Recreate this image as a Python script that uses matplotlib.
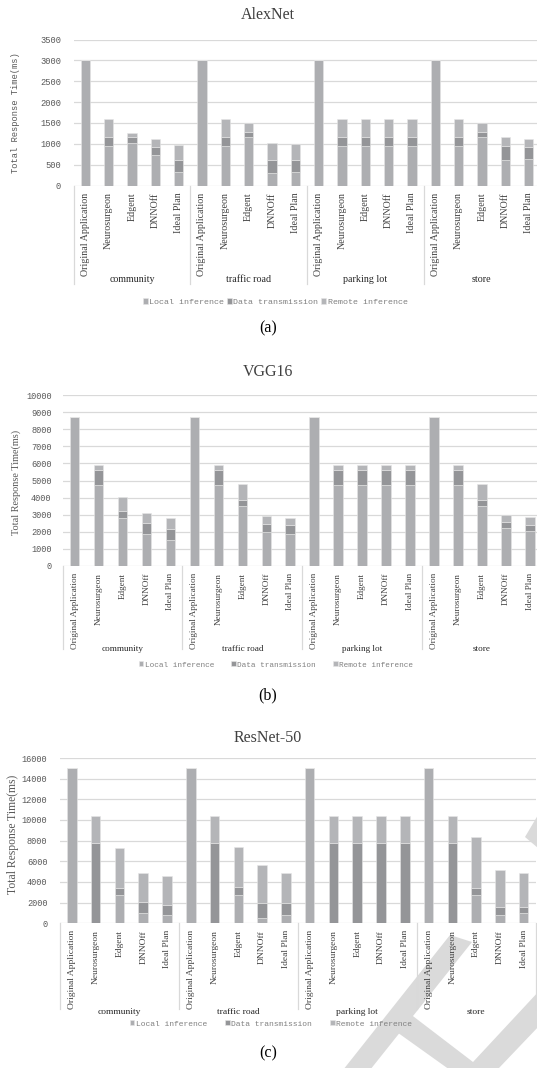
import matplotlib
matplotlib.use("Agg")
import matplotlib.pyplot as plt
import matplotlib.transforms as mtransforms
from matplotlib.lines import Line2D
from matplotlib.patches import Polygon

# Categories
scenes = ["community", "traffic road", "parking lot", "store"]
methods = ["Original Application", "Neurosurgeon", "Edgent", "DNNOff", "Ideal Plan"]
series_names = ["Local inference", "Data transmission", "Remote inference"]

# AlexNet (ms)
alex_local = [3000, 935, 1010, 720, 330, 3000, 935, 1160, 290, 330,
              3000, 935, 935, 935, 935, 3000, 935, 1160, 600, 645]
alex_trans = [0, 225, 150, 200, 270, 0, 225, 130, 310, 290,
              0, 225, 225, 225, 225, 0, 225, 130, 340, 275]
alex_remote = [0, 430, 100, 185, 360, 0, 430, 200, 410, 370,
               0, 430, 430, 430, 430, 0, 430, 200, 230, 200]

# VGG16 (ms)
vgg_local = [8700, 4720, 2780, 1840, 1490, 8700, 4720, 3500, 2000, 1860,
             8700, 4720, 4720, 4720, 4720, 8700, 4720, 3500, 2210, 2035]
vgg_trans = [0, 900, 450, 645, 660, 0, 900, 350, 430, 550,
             0, 900, 900, 900, 900, 0, 900, 350, 350, 370]
vgg_remote = [0, 290, 780, 590, 630, 0, 290, 920, 490, 390,
              0, 290, 290, 290, 290, 0, 290, 920, 390, 430]

# ResNet-50 (ms)
res_local = [15000, 0, 2700, 970, 800, 15000, 0, 2740, 520, 800,
             15000, 0, 0, 0, 0, 15000, 0, 2710, 800, 970]
res_trans = [0, 7800, 700, 1100, 970, 0, 7800, 780, 1450, 1170,
             0, 7800, 7800, 7800, 7800, 0, 7800, 710, 810, 640]
res_remote = [0, 2600, 3900, 2780, 2840, 0, 2600, 3900, 3640, 2870,
              0, 2600, 2600, 2600, 2600, 0, 2600, 4970, 3580, 3290]

colors = ["#adaeb1", "#949598", "#b4b5b8"]
SERIF = "Liberation Serif"
MONO = "Liberation Mono"

W, H = 537, 1068
fig = plt.figure(figsize=(W / 100, H / 100), dpi=100)


def rect(left, top, right, bottom):
    return [left / W, 1 - bottom / H, (right - left) / W, (bottom - top) / H]


def fy(py):
    return 1 - py / H


def fxy(pts):
    return [(x / W, fy(y)) for x, y in pts]


# light grey page stamp in the lower right corner (drawn behind everything)
stamp = [
    [(450, 935), (472, 942), (370, 1070), (343, 1070)],
    [(405, 1010), (473, 1062), (540, 990), (540, 1025), (478, 1090), (394, 1030)],
    [(525, 837), (538, 815), (538, 848)],
]
for pts in stamp:
    fig.patches.append(Polygon(fxy(pts), closed=True, transform=fig.transFigure,
                               facecolor="#dadada", edgecolor="none", zorder=-1))


def panel(cfg):
    ax = fig.add_axes(rect(cfg["left"], cfg["top"], cfg["right"], cfg["bottom"]))
    ax.set_facecolor("none")
    x = list(range(len(cfg["local"])))
    b1 = ax.bar(x, cfg["local"], 0.4, color=colors[0], edgecolor="#e6e6e6", linewidth=0.4, zorder=3)
    bottom2 = cfg["local"]
    b2 = ax.bar(x, cfg["trans"], 0.4, bottom=bottom2, color=colors[1], edgecolor="#e6e6e6",
                linewidth=0.4, zorder=3)
    bottom3 = [a + b for a, b in zip(cfg["local"], cfg["trans"])]
    b3 = ax.bar(x, cfg["remote"], 0.4, bottom=bottom3, color=colors[2], edgecolor="#e6e6e6",
                linewidth=0.4, zorder=3)

    ax.set_xlim(-0.5, cfg["xmax"])
    ax.set_ylim(0, cfg["ymax"])
    ax.set_yticks(range(0, cfg["ymax"] + 1, cfg["ystep"]))
    ax.yaxis.grid(True, color="#d9d9d9", linewidth=0.9, zorder=0)
    ax.set_axisbelow(True)
    for s in ax.spines.values():
        s.set_visible(False)
    ax.tick_params(axis="both", length=0)
    ax.tick_params(axis="y", pad=cfg["ypad"], labelsize=cfg["ytick_size"], labelcolor="#595959")
    for t in ax.get_yticklabels():
        t.set_fontfamily(MONO)

    ax.set_xticks(x)
    ax.set_xticklabels(methods * len(scenes), rotation=90, fontfamily=SERIF,
                       fontsize=cfg["xtick_size"], color="#404040", va="top")
    ax.tick_params(axis="x", pad=5)

    # group separators below the axis
    trans = mtransforms.blended_transform_factory(ax.transData, fig.transFigure)
    for g in range(len(scenes) + 1):
        xs = g * len(methods) - 0.5
        ax.add_line(Line2D([xs, xs], [fy(cfg["bottom"]), fy(cfg["sep_end"])], transform=trans,
                           color="#d9d9d9", linewidth=0.9, clip_on=False))
    for g, name in enumerate(scenes):
        ax.text(g * len(methods) + 2, fy(cfg["group_y"]), name, transform=trans,
                ha="center", va="center", fontfamily=SERIF, fontsize=cfg["xtick_size"],
                color="#262626")

    fig.text(cfg["title_x"] / W, fy(cfg["title_y"]), cfg["title"], ha="center", va="center",
             fontfamily=SERIF, fontsize=11.5, color="#404040")
    fig.text(cfg["ylabel_x"] / W, fy(cfg["ylabel_y"]), "Total Response Time(ms)", rotation=90,
             ha="center", va="center", fontfamily=cfg["ylabel_font"], fontsize=cfg["ylabel_size"],
             color="#595959")

    leg = fig.legend([b1, b2, b3], series_names, loc="center",
                     bbox_to_anchor=(cfg["legend_x"] / W, fy(cfg["legend_y"])), ncol=3,
                     frameon=False, handlelength=0.6, handleheight=0.6, handletextpad=0.2,
                     columnspacing=cfg["colspace"],
                     prop={"family": MONO, "size": cfg["legend_size"]})
    for t in leg.get_texts():
        t.set_color("#808080")

    fig.text(268 / W, fy(cfg["caption_y"]), cfg["caption"], ha="center", va="center",
             fontfamily=SERIF, fontsize=11.5, color="#000000")
    return ax


panel(dict(local=alex_local, trans=alex_trans, remote=alex_remote, title="AlexNet",
           left=73.6, right=537, top=39.5, bottom=185.5, xmax=19.36, ymax=3500, ystep=500,
           ypad=9, ytick_size=6.3, xtick_size=7.2, sep_end=284, group_y=280,
           title_x=268, title_y=15, ylabel_x=15.5, ylabel_y=113, ylabel_font=MONO,
           ylabel_size=6.3, legend_x=275, legend_y=302, legend_size=6.0, colspace=0.3,
           caption="(a)", caption_y=328))

panel(dict(local=vgg_local, trans=vgg_trans, remote=vgg_remote, title="VGG16",
           left=62.7, right=537, top=395.3, bottom=565.7, xmax=19.3, ymax=10000, ystep=1000,
           ypad=8, ytick_size=6.2, xtick_size=6.6, sep_end=649, group_y=649,
           title_x=268, title_y=372, ylabel_x=16.5, ylabel_y=482, ylabel_font=SERIF,
           ylabel_size=7.4, legend_x=276, legend_y=665, legend_size=5.6, colspace=2.2,
           caption="(b)", caption_y=695))

panel(dict(local=res_local, trans=res_trans, remote=res_remote, title="ResNet-50",
           left=60, right=535.6, top=758, bottom=923.3, xmax=19.5, ymax=16000, ystep=2000,
           ypad=9, ytick_size=6.2, xtick_size=6.8, sep_end=1009, group_y=1012,
           title_x=268, title_y=738, ylabel_x=13.5, ylabel_y=834, ylabel_font=SERIF,
           ylabel_size=8.4, legend_x=271, legend_y=1024, legend_size=5.8, colspace=2.2,
           caption="(c)", caption_y=1053))

fig.savefig("out.png", dpi=100)
